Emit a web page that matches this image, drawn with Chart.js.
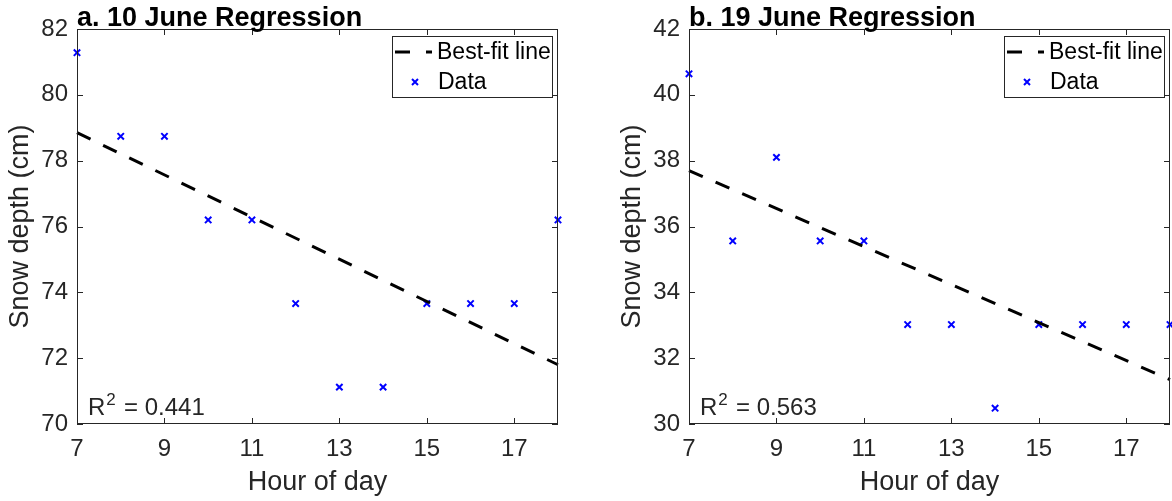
<!DOCTYPE html>
<html>
<head>
<meta charset="utf-8">
<script src="https://cdn.jsdelivr.net/npm/chart.js@4.4.1/dist/chart.umd.min.js"></script>
<style>
  html, body { margin: 0; padding: 0; background: #fff; overflow: hidden; width: 1172px; height: 501px; }
  .panel { position: absolute; top: 0; height: 501px; }
  #left { left: 0; width: 586px; }
  #right { left: 612px; width: 594px; }
</style>
</head>
<body>
<div class="panel" id="left"><canvas id="june10" width="586" height="501"></canvas></div>
<div class="panel" id="right"><canvas id="june19" width="594" height="501"></canvas></div>
<script>
// snow depth readings, hourly (values are whole inches in cm)
const hours = [7, 8, 9, 10, 11, 12, 13, 14, 15, 16, 17, 18];
const june10Depth = [81.28, 78.74, 78.74, 76.2, 76.2, 73.66, 71.12, 71.12, 73.66, 73.66, 73.66, 76.2];
const june19Depth = [40.64, 35.56, 38.1, 35.56, 35.56, 33.02, 33.02, 30.48, 33.02, 33.02, 33.02, 33.02];

// best-fit line end points
const fitHours = [7, 18];
const june10Fit = [78.85, 71.8];
const june19Fit = [37.7, 31.35];

const xTicks = [7, 9, 11, 13, 15, 17];
const june10YTicks = [70, 72, 74, 76, 78, 80, 82];
const june19YTicks = [30, 32, 34, 36, 38, 40, 42];

const june10Title = 'a. 10 June Regression';
const june19Title = 'b. 19 June Regression';
const june10R2 = '0.441';
const june19R2 = '0.563';

const AXIS_COLOR = '#262626';
const FONT = 'Arial, "Liberation Sans", sans-serif';

const toPoints = (xs, ys) => xs.map((x, i) => ({ x: x, y: ys[i] }));

// box, inward ticks, title, R^2 and legend, drawn MATLAB style
const decorPlugin = {
  id: 'decor',
  afterDraw(chart, args, opts) {
    const { ctx, chartArea: a, scales } = chart;
    ctx.save();
    ctx.strokeStyle = AXIS_COLOR;
    ctx.lineWidth = 1;
    ctx.strokeRect(a.left + 0.5, a.top + 0.5, a.right - a.left - 1, a.bottom - a.top - 1);
    const tl = 6;
    ctx.beginPath();
    scales.x.ticks.forEach(t => {
      const px = Math.round(scales.x.getPixelForValue(t.value)) + 0.5;
      ctx.moveTo(px, a.bottom); ctx.lineTo(px, a.bottom - tl);
      ctx.moveTo(px, a.top); ctx.lineTo(px, a.top + tl);
    });
    scales.y.ticks.forEach(t => {
      const py = Math.round(scales.y.getPixelForValue(t.value)) + 0.5;
      ctx.moveTo(a.left, py); ctx.lineTo(a.left + tl, py);
      ctx.moveTo(a.right, py); ctx.lineTo(a.right - tl, py);
    });
    ctx.stroke();

    // title
    ctx.fillStyle = '#000';
    ctx.font = 'bold 27px ' + FONT;
    ctx.textAlign = 'left';
    ctx.textBaseline = 'alphabetic';
    ctx.fillText(opts.title, a.left, a.top - 3);

    // R^2 note
    ctx.fillStyle = AXIS_COLOR;
    ctx.font = '24px ' + FONT;
    const rx = a.left + 11, ry = a.bottom - 9;
    ctx.fillText('R', rx, ry);
    const rw = ctx.measureText('R').width;
    ctx.font = '17px ' + FONT;
    ctx.fillText('2', rx + rw + 1, ry - 10);
    ctx.font = '24px ' + FONT;
    ctx.fillText(' = ' + opts.r2, rx + rw + 12, ry);

    // legend
    const lw = 160, lh = 61;
    const lx = a.right - 6 - lw, ly = a.top + 7;
    ctx.fillStyle = '#fff';
    ctx.fillRect(lx, ly, lw, lh);
    ctx.strokeStyle = AXIS_COLOR;
    ctx.strokeRect(lx + 0.5, ly + 0.5, lw, lh);
    const row1 = ly + 16, row2 = ly + 46;
    ctx.strokeStyle = '#000';
    ctx.lineWidth = 3;
    ctx.setLineDash([15, 16]);
    ctx.beginPath();
    ctx.moveTo(lx + 3, row1); ctx.lineTo(lx + 40, row1);
    ctx.stroke();
    ctx.setLineDash([]);
    ctx.strokeStyle = '#0000ff';
    ctx.lineWidth = 2;
    const mx = lx + 23, r = 3;
    ctx.beginPath();
    ctx.moveTo(mx - r, row2 - r); ctx.lineTo(mx + r, row2 + r);
    ctx.moveTo(mx + r, row2 - r); ctx.lineTo(mx - r, row2 + r);
    ctx.stroke();
    ctx.fillStyle = '#000';
    ctx.font = '23px ' + FONT;
    ctx.textBaseline = 'middle';
    ctx.fillText('Best-fit line', lx + 45, row1 + 1);
    ctx.fillText('Data', lx + 46, row2 + 1);
    ctx.restore();
  }
};

function makeChart(id, depth, fit, yTicks, title, r2, padRight) {
  new Chart(document.getElementById(id), {
    type: 'scatter',
    data: {
      datasets: [
        {
          label: 'Best-fit line',
          type: 'line',
          data: toPoints(fitHours, fit),
          borderColor: '#000',
          borderWidth: 3,
          borderDash: [15, 14],
          pointRadius: 0,
          fill: false,
          clip: false
        },
        {
          label: 'Data',
          data: toPoints(hours, depth),
          pointStyle: 'crossRot',
          pointRadius: 4.5,
          borderColor: '#0000ff',
          backgroundColor: '#0000ff',
          borderWidth: 2,
          clip: false
        }
      ]
    },
    options: {
      responsive: false,
      animation: false,
      devicePixelRatio: 1,
      layout: { padding: { top: 29, right: padRight, bottom: 0, left: 0 } },
      plugins: {
        legend: { display: false },
        tooltip: { enabled: false },
        decor: { title: title, r2: r2 }
      },
      scales: {
        x: {
          type: 'linear',
          min: 7,
          max: 18,
          grid: { display: false, drawTicks: false },
          border: { display: false },
          afterBuildTicks: s => { s.ticks = xTicks.map(v => ({ value: v })); },
          afterFit: s => { s.height = 77; },
          ticks: { color: AXIS_COLOR, font: { family: FONT, size: 24 }, padding: 11, maxRotation: 0 },
          title: { display: true, text: 'Hour of day', color: AXIS_COLOR, font: { family: FONT, size: 27 }, padding: { top: 0, bottom: 2 } }
        },
        y: {
          min: yTicks[0],
          max: yTicks[yTicks.length - 1],
          grid: { display: false, drawTicks: false },
          border: { display: false },
          afterBuildTicks: s => { s.ticks = yTicks.map(v => ({ value: v })); },
          afterFit: s => { s.width = 77; },
          ticks: { color: AXIS_COLOR, font: { family: FONT, size: 24 }, padding: 9 },
          title: { display: true, text: 'Snow depth (cm)', color: AXIS_COLOR, font: { family: FONT, size: 27 }, padding: { top: 4, bottom: 0 } }
        }
      }
    },
    plugins: [decorPlugin]
  });
}

makeChart('june10', june10Depth, june10Fit, june10YTicks, june10Title, june10R2, 28);
makeChart('june19', june19Depth, june19Fit, june19YTicks, june19Title, june19R2, 36);
</script>
</body>
</html>
